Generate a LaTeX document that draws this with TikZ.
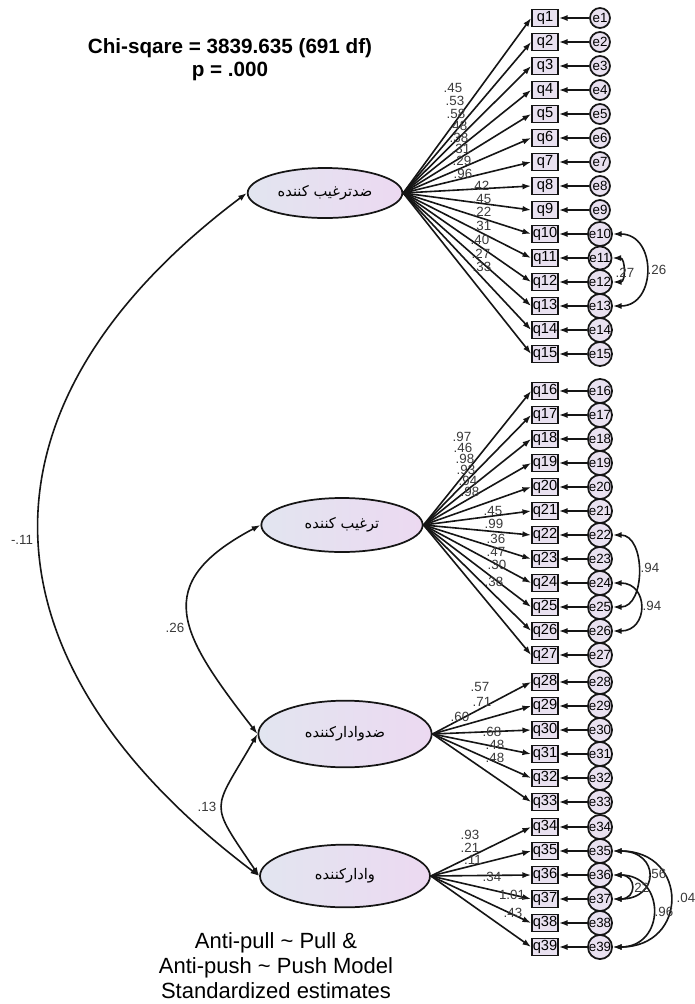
\documentclass[tikz,border=0pt]{standalone}
\usepackage{fontspec}
\setmainfont{Liberation Sans}
\newfontfamily\farsifont[Script=Arabic]{DejaVu Sans}
\TeXXeTstate=1
\usetikzlibrary{arrows.meta,shapes.geometric}
\definecolor{AmosInk}{HTML}{151515}
\definecolor{AmosBox}{HTML}{E9E1F0}
\definecolor{AmosLatL}{HTML}{E2E5F0}
\definecolor{AmosLatR}{HTML}{ECD9F1}
\definecolor{AmosNum}{HTML}{3A3A3A}
\newcommand{\fa}[1]{{\farsifont\beginR #1\endR}}

\begin{document}
\begin{tikzpicture}[x=0.75pt,y=-0.75pt,
    latent/.style={ellipse,draw=AmosInk,line width=1.3pt,left color=AmosLatL,right color=AmosLatR,inner sep=0pt,font=\fontsize{11}{12}\selectfont},
    obs/.style={rectangle,draw=AmosInk,line width=1.3pt,fill=AmosBox,minimum width=19.5pt,minimum height=12.75pt,inner sep=0pt,font=\fontsize{11}{12}\selectfont},
    err/.style={circle,draw=AmosInk,line width=1.3pt,fill=AmosBox,minimum size=15pt,inner sep=0pt,font=\fontsize{10}{11}\selectfont},
    load/.style={-{Latex[length=6.5pt,width=4.5pt]},line width=1.2pt,AmosInk},
    cov/.style={{Latex[length=6.5pt,width=4.5pt]}-{Latex[length=6.5pt,width=4.5pt]},line width=1.2pt,AmosInk},
    est/.style={font=\fontsize{10}{11}\selectfont,text=AmosNum,inner sep=0pt}
  ]
    \path[use as bounding box,fill=white] (0,0) rectangle (695,1004);

    % latent factors
    \node[latent,minimum width=116pt,minimum height=37.5pt] (antipull) at (325,193) {\fa{ضدترغیب کننده}};
    \node[latent,minimum width=121pt,minimum height=40.5pt] (pull) at (342,525) {\fa{ترغیب کننده}};
    \node[latent,minimum width=130pt,minimum height=50pt] (antipush) at (345,734) {\fa{ضدوادارکننده}};
    \node[latent,minimum width=127.5pt,minimum height=47pt] (push) at (345,876) {\fa{وادارکننده}};

    % items, errors and loadings
    \foreach \first/\last/\top/\lat in {1/15/18/antipull,16/27/391/pull,28/33/682/antipush,34/39/827/push} {
      \foreach \i in {\first,...,\last} {
        \node[obs] (q\i) at (545,{\top+(\i-\first)*24}) {q\i};
        \node[err] (e\i) at (600,{\top+(\i-\first)*24}) {e\i};
        \draw[load] (e\i) -- (q\i);
        \draw[load] (\lat.east) -- (q\i.west);
      }
    }

    \foreach \i/\v/\px/\py in {1/.45/453/88,2/.53/455/101,3/.58/456/114,4/.48/458/126,5/.38/459/138,
        6/.31/461/149,7/.29/462/161,8/.96/463/174,9/.42/480/186,10/.45/482/199,11/.22/482/212,
        12/.31/482/226,13/.40/480/240,14/.27/481/254,15/.33/482/267,
        16/.97/462/437,17/.46/463/448,18/.98/465/459,19/.93/466/470,20/.94/468/481,21/.98/470/492,
        22/.45/493/511,23/.99/494/524,24/.36/496/539,25/.47/496/552,26/.30/497/565,27/.38/494/582,
        28/.57/480/687,29/.71/482/702,30/.60/460/717,31/.68/492/732,32/.48/495/745,33/.48/495/758,
        34/.93/470/835,35/.21/470/848,36/.11/473/860,37/.34/492/877,38/1.01/512/895,39/.43/513/913}
      \node[est] (l\i) at (\px,\py) {\v};

    % error covariances
    \draw[cov] (e10.east) .. controls +(44,0) and +(44,0) .. (e13.east);
    \draw[cov] (e11.east) .. controls +(13,0) and +(13,0) .. (e12.east);
    \draw[cov] (e22.east) .. controls +(33,0) and +(33,0) .. (e25.east);
    \draw[cov] (e24.east) .. controls +(36,0) and +(36,0) .. (e26.east);
    \draw[cov] (e35.east) .. controls +(76,0) and +(76,0) .. (e39.east);
    \draw[cov] (e35.east) .. controls +(47,0) and +(47,0) .. (e37.east);
    \draw[cov] (e36.east) .. controls +(24,0) and +(24,0) .. (e37.east);
    \draw[cov] (e36.east) .. controls +(53,0) and +(53,0) .. (e39.east);
    \node[est] (c1013) at (657,270) {.26};
    \node[est] (c1112) at (625,273) {.27};
    \node[est] (c2225) at (650,568) {.94};
    \node[est] (c2426) at (652,606) {.94};
    \node[est] (c3539) at (686,898) {.04};
    \node[est] (c3537) at (657,874) {.56};
    \node[est] (c3637) at (640,888) {.22};
    \node[est] (c3639) at (664,912) {.96};

    % factor covariances
    \draw[cov] (antipull.west) .. controls (-38,407) and (-26,661) .. (push.west);
    \draw[cov] (pull.west) .. controls (149,584) and (180,634) .. (antipush.west);
    \draw[cov] (antipush.west) .. controls (212,813) and (208,800) .. (push.west);
    \node[est] (r14) at (22,540) {-.11};
    \node[est] (r23) at (175,628) {.26};
    \node[est] (r34) at (207,807) {.13};

    \node[font=\bfseries\fontsize{15.5}{17.25}\selectfont,align=center] (chi) at (230,60) {Chi-sqare = 3839.635 (691 df)\\p = .000};
    \node[font=\fontsize{16.5}{18.75}\selectfont,align=center] (note) at (276,966) {Anti-pull \textasciitilde{} Pull \&\\Anti-push \textasciitilde{} Push Model\\Standardized estimates};
  \end{tikzpicture}
\end{document}
